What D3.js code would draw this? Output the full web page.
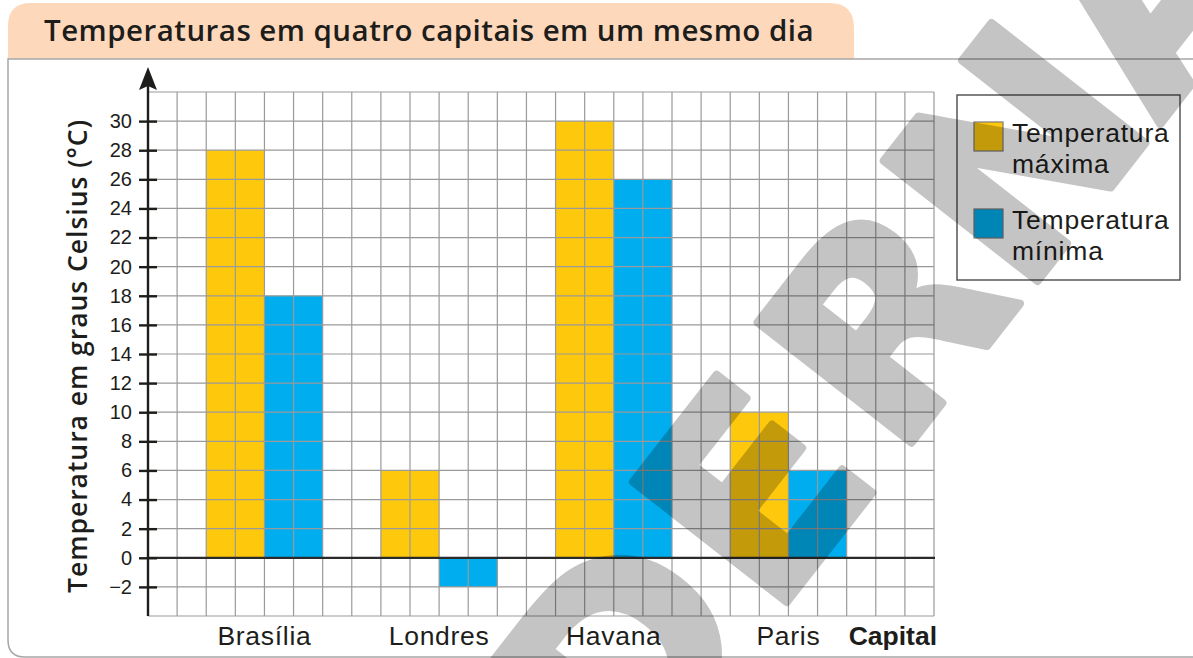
<!DOCTYPE html>
<html>
<head>
<meta charset="utf-8">
<script src="https://cdn.jsdelivr.net/npm/d3@7"></script>
<style>
  body { margin: 0; background: #fff; }
  svg { display: block; }
</style>
</head>
<body>
<svg id="chart" width="1193" height="658"></svg>
<script>
// ---- data ----
const capitals = ["Brasília", "Londres", "Havana", "Paris"];
const tempMax = [28, 6, 30, 10];
const tempMin = [18, -2, 26, 6];
const seriesColors = ["#fec80c", "#00adee"];
const yTicks = [-2, 0, 2, 4, 6, 8, 10, 12, 14, 16, 18, 20, 22, 24, 26, 28, 30];
const titleText = "Temperaturas em quatro capitais em um mesmo dia";
const yTitle = "Temperatura em graus Celsius (°C)";
const xTitle = "Capital";
const legendLines = [["Temperatura", "máxima"], ["Temperatura", "mínima"]];
const watermark = "DERNA";

const svg = d3.select("#chart");
const W = 1193, H = 658;
const sans = "Liberation Sans, Arial, sans-serif";
const heading = "Open Sans, Liberation Sans, sans-serif";
svg.append("rect").attr("width", W).attr("height", H).attr("fill", "#fff");

// stretch a text element to a given length by adjusting letter spacing
function fitWidth(sel, target) {
  const n = sel.text().length;
  const len = sel.node().getComputedTextLength();
  sel.attr("letter-spacing", ((target - len) / n).toFixed(3));
}

// ---- frame and title tab ----
svg.append("path")
  .attr("d", "M8,59 V26 Q8,3 31,3 H829 Q854,3 854,28 V59 Z")
  .attr("fill", "#fdd8bb");
svg.append("path")
  .attr("d", "M1193,59 H8 V640 Q8,657 25,657 H1193")
  .attr("fill", "none").attr("stroke", "#a6a6a6").attr("stroke-width", 1.5);
const title = svg.append("text")
  .attr("x", 44).attr("y", 41)
  .attr("font-family", heading)
  .attr("font-weight", 600).attr("font-size", 29.5)
  .attr("fill", "#1d1d1b")
  .text(titleText);
fitWidth(title, 770);

// ---- scales ----
const nCols = 27;
const col = d3.scaleLinear().domain([0, nCols]).range([148, 934]);
const y = d3.scaleLinear().domain([-4, 32]).range([616, 92]);
const x0 = d3.scaleBand().domain(capitals).range([col(2), col(24)])
  .paddingInner(1 / 3).paddingOuter(0);
const x1 = d3.scaleBand().domain([0, 1]).range([0, x0.bandwidth()]);

const rows = capitals.map((c, i) => ({ capital: c, values: [tempMax[i], tempMin[i]] }));

// ---- bars ----
const groups = svg.append("g").selectAll("g").data(rows).join("g")
  .attr("transform", d => `translate(${x0(d.capital)},0)`);
groups.selectAll("rect")
  .data(d => d.values.map((v, k) => ({ v, k })))
  .join("rect")
  .attr("x", d => x1(d.k))
  .attr("width", x1.bandwidth())
  .attr("y", d => y(Math.max(0, d.v)))
  .attr("height", d => Math.abs(y(d.v) - y(0)))
  .attr("fill", d => seriesColors[d.k]);

// ---- grid ----
const grid = svg.append("g").attr("stroke", "#9a9a9a").attr("stroke-width", 1.2);
grid.selectAll("line.v").data(d3.range(1, nCols + 1)).join("line")
  .attr("x1", d => col(d)).attr("x2", d => col(d))
  .attr("y1", y(-4)).attr("y2", y(32));
grid.selectAll("line.h").data(d3.range(-4, 33, 2)).join("line")
  .attr("x1", col(0)).attr("x2", col(nCols))
  .attr("y1", d => y(d)).attr("y2", d => y(d));

// zero line
svg.append("line")
  .attr("x1", col(0)).attr("x2", col(nCols) + 1)
  .attr("y1", y(0)).attr("y2", y(0))
  .attr("stroke", "#2a2a2a").attr("stroke-width", 2.2);

// ---- y axis ----
const yAxis = svg.append("g")
  .attr("transform", `translate(${col(0)},0)`)
  .call(d3.axisLeft(y).tickValues(yTicks).tickSize(9).tickPadding(7));
yAxis.select(".domain").remove();
yAxis.selectAll(".tick line")
  .attr("x1", -9).attr("x2", 9)
  .attr("stroke", "#1d1d1b").attr("stroke-width", 2.4);
yAxis.selectAll(".tick text")
  .attr("font-family", sans)
  .attr("font-size", 20).attr("fill", "#1d1d1b");

svg.append("line")
  .attr("x1", col(0)).attr("x2", col(0))
  .attr("y1", y(-4)).attr("y2", 86)
  .attr("stroke", "#1d1d1b").attr("stroke-width", 2.4);
svg.append("path")
  .attr("d", `M${col(0)},67 L${col(0) + 9},90 L${col(0)},86 L${col(0) - 9},90 Z`)
  .attr("fill", "#1d1d1b");

const yLab = svg.append("text")
  .attr("transform", "translate(87,356) rotate(-90)")
  .attr("text-anchor", "middle")
  .attr("font-family", heading)
  .attr("font-weight", 600).attr("font-size", 26.5)
  .attr("fill", "#1d1d1b")
  .text(yTitle);
fitWidth(yLab, 474);

// ---- x labels ----
svg.append("g").selectAll("text").data(capitals).join("text")
  .attr("x", d => x0(d) + x0.bandwidth() / 2)
  .attr("y", 645)
  .attr("text-anchor", "middle")
  .attr("font-family", sans)
  .attr("font-size", 26.5).attr("letter-spacing", 0.7).attr("fill", "#1d1d1b")
  .text(d => d);
svg.append("text")
  .attr("x", col(nCols) + 3).attr("y", 645)
  .attr("text-anchor", "end")
  .attr("font-family", sans)
  .attr("font-weight", "bold").attr("font-size", 26.5)
  .attr("fill", "#1d1d1b")
  .text(xTitle);

// ---- legend ----
const legend = svg.append("g").attr("transform", "translate(957,95)");
legend.append("rect").attr("width", 223).attr("height", 185)
  .attr("fill", "none").attr("stroke", "#4a4a4a").attr("stroke-width", 1.4);
const items = legend.selectAll("g.item").data(legendLines).join("g")
  .attr("transform", (d, i) => `translate(0,${i * 87})`);
items.append("rect")
  .attr("x", 17).attr("y", 27).attr("width", 29).attr("height", 29)
  .attr("fill", (d, i) => seriesColors[i])
  .attr("stroke", "#7a7a7a").attr("stroke-width", 1.2);
items.append("text")
  .attr("font-family", sans)
  .attr("font-size", 26.5).attr("letter-spacing", 0.8).attr("fill", "#1d1d1b")
  .selectAll("tspan").data(d => d).join("tspan")
  .attr("x", 55).attr("y", (d, j) => 47 + j * 31)
  .text(d => d);

// ---- publisher watermark ----
const ang = -52, step = 214;
const rad = ang * Math.PI / 180;
const ux = Math.cos(rad), uy = Math.sin(rad);
const eIdx = 1, eCx = 752, eCy = 490;
svg.append("g")
  .style("mix-blend-mode", "multiply")
  .selectAll("text").data(watermark.split("")).join("text")
  .attr("transform", (d, i) => {
    const cx = eCx + (i - eIdx) * step * ux;
    const cy = eCy + (i - eIdx) * step * uy;
    return `translate(${cx},${cy}) rotate(${ang})`;
  })
  .attr("text-anchor", "middle")
  .attr("dy", "0.36em")
  .attr("font-family", "DejaVu Sans, sans-serif")
  .attr("font-weight", "bold").attr("font-size", 268)
  .attr("fill", "#c4c4c4")
  .attr("stroke", "#c4c4c4").attr("stroke-width", 8).attr("stroke-linejoin", "round")
  .text(d => d);
</script>
</body>
</html>
